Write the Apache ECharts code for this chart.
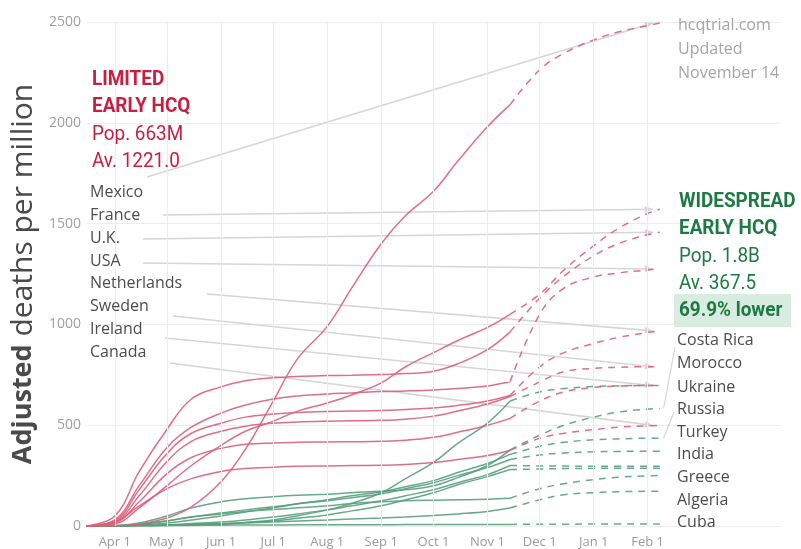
<!DOCTYPE html>
<html><head><meta charset="utf-8">
<script src="https://cdn.jsdelivr.net/npm/echarts@6/dist/echarts.min.js"></script>
<style>html,body{margin:0;padding:0;background:#fff}#c{width:801px;height:549px}</style>
</head><body><div id="c"></div>
<script>
// ---------- DATA ----------
const solidDates = ['2020-03-15','2020-04-01','2020-04-15','2020-05-01','2020-05-15','2020-06-01','2020-06-15','2020-07-01','2020-07-15','2020-08-01','2020-08-15','2020-09-01','2020-09-15','2020-10-01','2020-10-15','2020-11-01','2020-11-14'];
const projDates = ['2020-11-14','2020-12-01','2020-12-15','2021-01-01','2021-01-15','2021-02-01','2021-02-08'];

// Limited early HCQ (red)
const mexico          = [0, 0, 10, 40, 95, 220, 380, 620, 830, 990, 1180, 1400, 1540, 1660, 1810, 1980, 2090];
const mexicoProj      = [2090, 2263, 2345, 2411, 2450, 2482, 2495];
const france          = [0, 10, 90, 200, 300, 400, 470, 520, 570, 610, 650, 710, 790, 860, 920, 985, 1050];
const franceProj      = [1050, 1150, 1270, 1390, 1475, 1550, 1571];
const uk              = [0, 50, 270, 480, 630, 690, 720, 735, 742, 746, 748, 751, 756, 768, 805, 875, 963];
const ukProj          = [963, 1130, 1240, 1340, 1400, 1445, 1457];
const usa             = [0, 30, 200, 390, 490, 560, 600, 630, 645, 655, 660, 667, 670, 675, 682, 695, 716];
const usaProj         = [716, 1050, 1180, 1235, 1255, 1270, 1275];
const netherlands     = [0, 25, 180, 360, 460, 510, 540, 555, 563, 568, 570, 573, 578, 585, 598, 620, 647];
const netherlandsProj = [647, 790, 860, 905, 935, 960, 968];
const sweden          = [0, 20, 150, 320, 420, 470, 495, 510, 516, 520, 522, 524, 530, 545, 570, 605, 642];
const swedenProj      = [642, 715, 766, 782, 787, 790, 790];
const ireland         = [0, 15, 120, 260, 340, 385, 405, 412, 415, 417, 418, 420, 425, 440, 465, 500, 534];
const irelandProj     = [534, 620, 665, 688, 694, 697, 697];
const canada          = [0, 20, 100, 185, 235, 270, 285, 292, 296, 298, 300, 301, 305, 315, 330, 350, 375];
const canadaProj      = [375, 435, 460, 478, 490, 497, 499];

// Widespread early HCQ (green)
const costaRica       = [0, 0, 2, 4, 6, 10, 18, 30, 50, 80, 112, 165, 235, 315, 410, 510, 620];
const costaRicaProj   = [620, 665, 682, 692, 695, 697, 697];
const morocco         = [0, 2, 15, 50, 90, 120, 135, 145, 152, 158, 165, 172, 180, 200, 240, 300, 378];
const moroccoProj     = [378, 450, 500, 540, 565, 580, 583];
const ukraine         = [0, 0, 5, 15, 30, 50, 70, 90, 110, 130, 150, 170, 195, 225, 265, 310, 355];
const ukraineProj     = [355, 395, 415, 428, 432, 435, 435];
const russia          = [0, 1, 8, 25, 45, 65, 80, 95, 110, 125, 140, 160, 185, 215, 250, 290, 330];
const russiaProj      = [330, 352, 362, 368, 370, 371, 371];
const turkey          = [0, 0, 2, 6, 12, 20, 30, 45, 60, 80, 100, 125, 150, 180, 215, 255, 300];
const turkeyProj      = [300, 298, 297, 296, 296, 296, 296];
const india           = [0, 0, 1, 3, 6, 10, 16, 25, 38, 55, 75, 100, 130, 165, 205, 245, 280];
const indiaProj       = [280, 283, 285, 286, 287, 287, 287];
const greece          = [0, 1, 8, 25, 45, 60, 72, 82, 90, 100, 112, 120, 125, 128, 130, 133, 138];
const greeceProj      = [138, 185, 210, 230, 242, 249, 250];
const algeria         = [0, 0, 2, 5, 8, 12, 16, 20, 25, 30, 35, 40, 45, 52, 60, 72, 89];
const algeriaProj     = [89, 130, 155, 165, 170, 172, 173];
const cuba            = [0, 0, 1, 2, 3, 4, 5, 5, 6, 6, 6, 6, 7, 7, 7, 8, 8];
const cubaProj        = [8, 9, 9, 10, 10, 10, 10];

const tickDates  = ['2020-04-01','2020-05-01','2020-06-01','2020-07-01','2020-08-01','2020-09-01','2020-10-01','2020-11-01','2020-12-01','2021-01-01','2021-02-01'];
const tickLabels = ['Apr 1','May 1','Jun 1','Jul 1','Aug 1','Sep 1','Oct 1','Nov 1','Dec 1','Jan 1','Feb 1'];

const leftLabels  = ['Mexico','France','U.K.','USA','Netherlands','Sweden','Ireland','Canada'];
const rightLabels = ['Costa Rica','Morocco','Ukraine','Russia','Turkey','India','Greece','Algeria','Cuba'];
const limitedBlock    = ['LIMITED','EARLY HCQ','Pop. 663M','Av. 1221.0'];
const widespreadBlock = ['WIDESPREAD','EARLY HCQ','Pop. 1.8B','Av. 367.5','69.9% lower'];
const sourceText  = ['hcqtrial.com','Updated','November 14'];
const yAxisTitle  = ['Adjusted', 'deaths per million'];

// ---------- CHART ----------
function ts(s){ const p = s.split('-').map(Number); return new Date(p[0], p[1]-1, p[2]).getTime(); }
const RED = '#dc5f7a', GREEN = '#58a07c';

const redLines = [
  ['Mexico', mexico, mexicoProj], ['France', france, franceProj], ['U.K.', uk, ukProj],
  ['USA', usa, usaProj], ['Netherlands', netherlands, netherlandsProj], ['Sweden', sweden, swedenProj],
  ['Ireland', ireland, irelandProj], ['Canada', canada, canadaProj]
];
const greenLines = [
  ['Costa Rica', costaRica, costaRicaProj], ['Morocco', morocco, moroccoProj], ['Ukraine', ukraine, ukraineProj],
  ['Russia', russia, russiaProj], ['Turkey', turkey, turkeyProj], ['India', india, indiaProj],
  ['Greece', greece, greeceProj], ['Algeria', algeria, algeriaProj], ['Cuba', cuba, cubaProj]
];

const series = [];
series.push({
  type: 'line', name: 'grid', data: [[ts(tickDates[0]), 0]], silent: true, z: 0, showSymbol: false,
  lineStyle: { opacity: 0 },
  markLine: { silent: true, symbol: 'none', animation: false, label: { show: false },
    lineStyle: { color: '#ececec', width: 1, type: 'solid' },
    data: tickDates.map(d => ({ xAxis: ts(d) })) }
});
function addLines(list, color, z) {
  list.forEach(([name, solid, proj]) => {
    series.push({ type: 'line', name: name, z: z, showSymbol: false, smooth: 0.4,
      lineStyle: { color: color, width: 1.5, opacity: 0.9 },
      data: solidDates.map((d, i) => [ts(d), solid[i]]) });
    series.push({ type: 'line', name: name + ' projection', z: z, showSymbol: false, smooth: 0.4,
      lineStyle: { color: color, width: 1.5, opacity: 0.9, type: [7, 6] },
      data: projDates.map((d, i) => [ts(d), proj[i]]) });
  });
}
addLines(greenLines, GREEN, 3);
addLines(redLines, RED, 4);

const tickTs = tickDates.map(ts);
const chart = echarts.init(document.getElementById('c'), null, { renderer: 'canvas' });
chart.setOption({
  animation: false,
  backgroundColor: '#fff',
  grid: { left: 83, right: 21, top: 22, bottom: 21 },
  xAxis: {
    type: 'time', min: ts('2020-03-16'), max: ts('2021-04-18'),
    maxInterval: 31 * 86400000, minInterval: 28 * 86400000,
    axisLine: { show: false }, axisTick: { show: false }, splitLine: { show: false },
    axisLabel: {
      color: '#9a9a9a', fontSize: 13, fontFamily: 'Open Sans', margin: 10,
      hideOverlap: false, showMinLabel: false, showMaxLabel: false,
      formatter: function (v) {
        for (let i = 0; i < tickTs.length; i++) if (Math.abs(v - tickTs[i]) < 43200000) return tickLabels[i];
        return '';
      }
    }
  },
  yAxis: {
    type: 'value', min: 0, max: 2500, interval: 500,
    name: '{b|' + yAxisTitle[0] + '} ' + yAxisTitle[1], nameLocation: 'middle', nameGap: 44, nameRotate: 90,
    nameTextStyle: { fontSize: 30, color: '#4a4a4a', fontFamily: 'Open Sans',
      rich: { b: { fontSize: 27, fontWeight: 'bold', color: '#4a4a4a', fontFamily: 'Open Sans' } } },
    axisLine: { show: false }, axisTick: { show: false },
    axisLabel: { color: '#a0a0a0', fontSize: 14, fontFamily: 'Open Sans', margin: 6,
      formatter: function (v) { return String(v); } },
    splitLine: { lineStyle: { color: '#ececec', width: 1 } }
  },
  series: series
});

// ---------- ANNOTATIONS ----------
const g = [];
const RED_TXT = '#c81e40', GREEN_TXT = '#1c7a42';
function txt(x, y, text, o) {
  g.push({ type: 'text', x: x, y: y, z: 20, scaleX: o.scaleX || 1,
    style: { text: text, fill: o.fill, fontSize: o.size, fontWeight: o.weight || 'normal',
      fontFamily: o.family || 'Open Sans', verticalAlign: 'middle', align: 'left' } });
}
g.push({ type: 'rect', z: 10, shape: { x: 674, y: 294, width: 117, height: 33 }, style: { fill: '#d9ece1' } });

const limY = [80, 107, 135, 162];
limitedBlock.forEach((t, i) => txt(92, limY[i], t, { fill: RED_TXT, size: 21, weight: i < 2 ? 'bold' : 'normal', family: 'Roboto', scaleX: 0.9 }));
const wideY = [202, 229, 257, 284, 311];
widespreadBlock.forEach((t, i) => txt(679, wideY[i], t, { fill: GREEN_TXT, size: 21, weight: (i < 2 || i === 4) ? 'bold' : 'normal', family: 'Roboto', scaleX: 0.9 }));
const srcY = [25, 49, 73];
sourceText.forEach((t, i) => txt(678, srcY[i], t, { fill: '#a5a5a5', size: 16 }));
const leftY = [192, 215, 238, 261, 283, 306, 329, 352];
leftLabels.forEach((t, i) => txt(90, leftY[i], t, { fill: '#4d4d4d', size: 16 }));
const rightY = [340, 363, 387, 409, 432, 454, 477, 500, 522];
rightLabels.forEach((t, i) => txt(677, rightY[i], t, { fill: '#4d4d4d', size: 16 }));

const leaderStarts = [[147, 177], [163, 215], [143, 239], [143, 263], [207, 294], [173, 316], [165, 338], [170, 363]];
const LEAD = '#d6d6d6';
function leader(sx, sy, ex, ey) {
  g.push({ type: 'line', z: 1, shape: { x1: sx, y1: sy, x2: ex, y2: ey }, style: { stroke: LEAD, lineWidth: 1.6 } });
  const a = Math.atan2(ey - sy, ex - sx), L = 8, W = 3.5;
  const bx = ex - L * Math.cos(a), by = ey - L * Math.sin(a);
  g.push({ type: 'polygon', z: 1, shape: { points: [[ex, ey],
    [bx + W * Math.sin(a), by - W * Math.cos(a)], [bx - W * Math.sin(a), by + W * Math.cos(a)]] },
    style: { fill: LEAD } });
}
redLines.forEach(([name, solid, proj], i) => {
  const p = chart.convertToPixel({ xAxisIndex: 0, yAxisIndex: 0 }, [ts('2021-02-04'), proj[proj.length - 1]]);
  leader(leaderStarts[i][0], leaderStarts[i][1], p[0], p[1]);
});
const pm = chart.convertToPixel({ xAxisIndex: 0, yAxisIndex: 0 }, [ts('2021-02-09'), moroccoProj[moroccoProj.length - 1]]);
g.push({ type: 'line', z: 1, shape: { x1: 675, y1: 347, x2: pm[0] + 2, y2: pm[1] }, style: { stroke: LEAD, lineWidth: 1.2 } });
const pu = chart.convertToPixel({ xAxisIndex: 0, yAxisIndex: 0 }, [ts('2021-02-09'), ukraineProj[ukraineProj.length - 1]]);
g.push({ type: 'line', z: 1, shape: { x1: 674, y1: 412, x2: pu[0] + 2, y2: pu[1] }, style: { stroke: LEAD, lineWidth: 1.2 } });

chart.setOption({ graphic: g });
</script></body></html>
